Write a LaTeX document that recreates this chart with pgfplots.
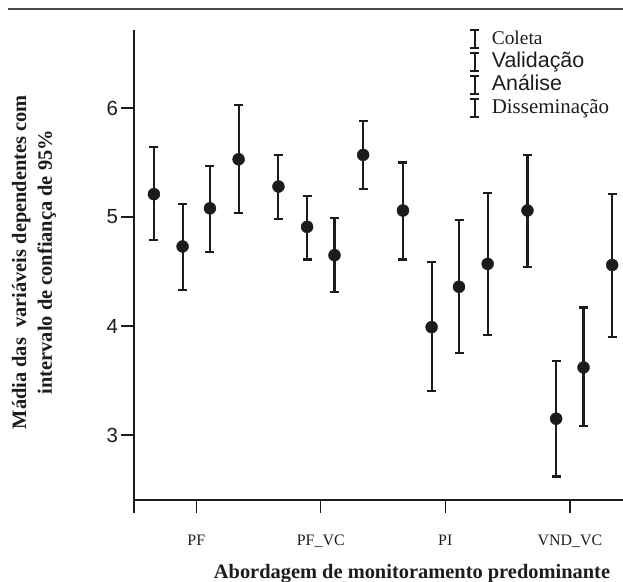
\documentclass[border=0pt]{standalone}
\usepackage{fontspec}
\setmainfont{Liberation Serif}
\newfontfamily\sans{Liberation Sans}
\usepackage{pgfplots}
\pgfplotsset{compat=1.18}
\usepackage{pgfplotstable}
\definecolor{ink}{RGB}{28,28,28}

\pgfplotstableread{
x y ep em
0.66 5.21 0.43 0.42
1.66 5.28 0.29 0.30
2.66 5.06 0.44 0.45
3.66 5.06 0.51 0.52
}\coleta
\pgfplotstableread{
x y ep em
0.89 4.73 0.39 0.40
1.89 4.91 0.28 0.30
2.89 3.99 0.60 0.59
3.89 3.15 0.53 0.53
}\validacao
\pgfplotstableread{
x y ep em
1.11 5.08 0.39 0.40
2.11 4.65 0.34 0.34
3.11 4.36 0.61 0.61
4.11 3.62 0.55 0.54
}\analise
\pgfplotstableread{
x y ep em
1.34 5.53 0.50 0.49
2.34 5.57 0.31 0.31
3.34 4.57 0.65 0.65
4.34 4.56 0.65 0.66
}\disseminacao

\pgfplotsset{myplot/.style={only marks, mark=*, mark size=6bp, color=ink,
  mark options={fill=ink, draw=ink},
  /pgfplots/error bars/y dir=both, /pgfplots/error bars/y explicit,
  /pgfplots/error bars/error bar style={line width=2.1bp, ink},
  /pgfplots/error bars/error mark options={rotate=90, mark size=4.5bp, line width=2.1bp, ink}}}

\begin{document}
\begin{tikzpicture}
\draw[line width=1.3bp, ink!80] (8bp,573bp) -- (623bp,573bp);
\begin{axis}[
  at={(134bp,82bp)}, anchor=south west,
  scale only axis, width=489bp, height=470bp,
  xmin=0.5, xmax=4.427, ymin=2.404, ymax=6.716,
  clip=false,
  axis x line*=bottom, axis y line*=left,
  axis line style={line width=1.4bp, ink},
  tick align=outside, major tick length=12.5bp,
  tick style={line width=1.4bp, ink},
  xtick={1,2,3,4}, xticklabels={PF,PF\_VC,PI,VND\_VC},
  extra x ticks={0.5}, extra x tick labels={},
  xticklabel style={font=\fontsize{16}{18}\selectfont, yshift=-19bp, text=ink},
  ytick={3,4,5,6}, yticklabels={3,4,5,6},
  yticklabel style={font=\sans\fontsize{20.5}{24}\selectfont, text=ink},
  xlabel={Abordagem de monitoramento predominante},
  xlabel style={font=\bfseries\fontsize{20.5}{24}\selectfont, at={(rel axis cs:0.5685,0)}, anchor=base, yshift=-78bp, text=ink},
  ylabel={Mádia das\ \ variáveis dependentes com\\intervalo de confiança de 95\%},
  ylabel style={font=\bfseries\fontsize{20.5}{26}\selectfont, align=center, at={(rel axis cs:-0.2045,0.506)}, anchor=center, text=ink},
  legend style={at={(rel axis cs:0.679,1.0074)}, anchor=north west, draw=none, fill=none,
    row sep=0pt, column sep=10bp,
    nodes={inner ysep=0pt, text height=15.5bp, text depth=7.5bp, text=ink}},
  legend cell align=left,
  legend image code/.code={
    \draw[line width=2bp, ink] (0.15cm,-8bp) -- (0.15cm,10.5bp);
    \draw[line width=2bp, ink] (0.15cm-4.3bp,-8bp) -- (0.15cm+4.3bp,-8bp);
    \draw[line width=2bp, ink] (0.15cm-4.3bp,10.5bp) -- (0.15cm+4.3bp,10.5bp);
  },
]
\addplot[myplot] table[x=x, y=y, y error plus=ep, y error minus=em] {\coleta};
\addlegendentry{\fontsize{19.5}{20}\selectfont Coleta}
\addplot[myplot] table[x=x, y=y, y error plus=ep, y error minus=em] {\validacao};
\addlegendentry{\sans\fontsize{21.5}{22}\selectfont Validação}
\addplot[myplot] table[x=x, y=y, y error plus=ep, y error minus=em] {\analise};
\addlegendentry{\sans\fontsize{21.5}{22}\selectfont Análise}
\addplot[myplot] table[x=x, y=y, y error plus=ep, y error minus=em] {\disseminacao};
\addlegendentry{\fontsize{21}{22}\selectfont Disseminação}
\end{axis}
\pgfresetboundingbox
\path[use as bounding box] (0,0) rectangle (623bp,582bp);
\end{tikzpicture}
\end{document}
